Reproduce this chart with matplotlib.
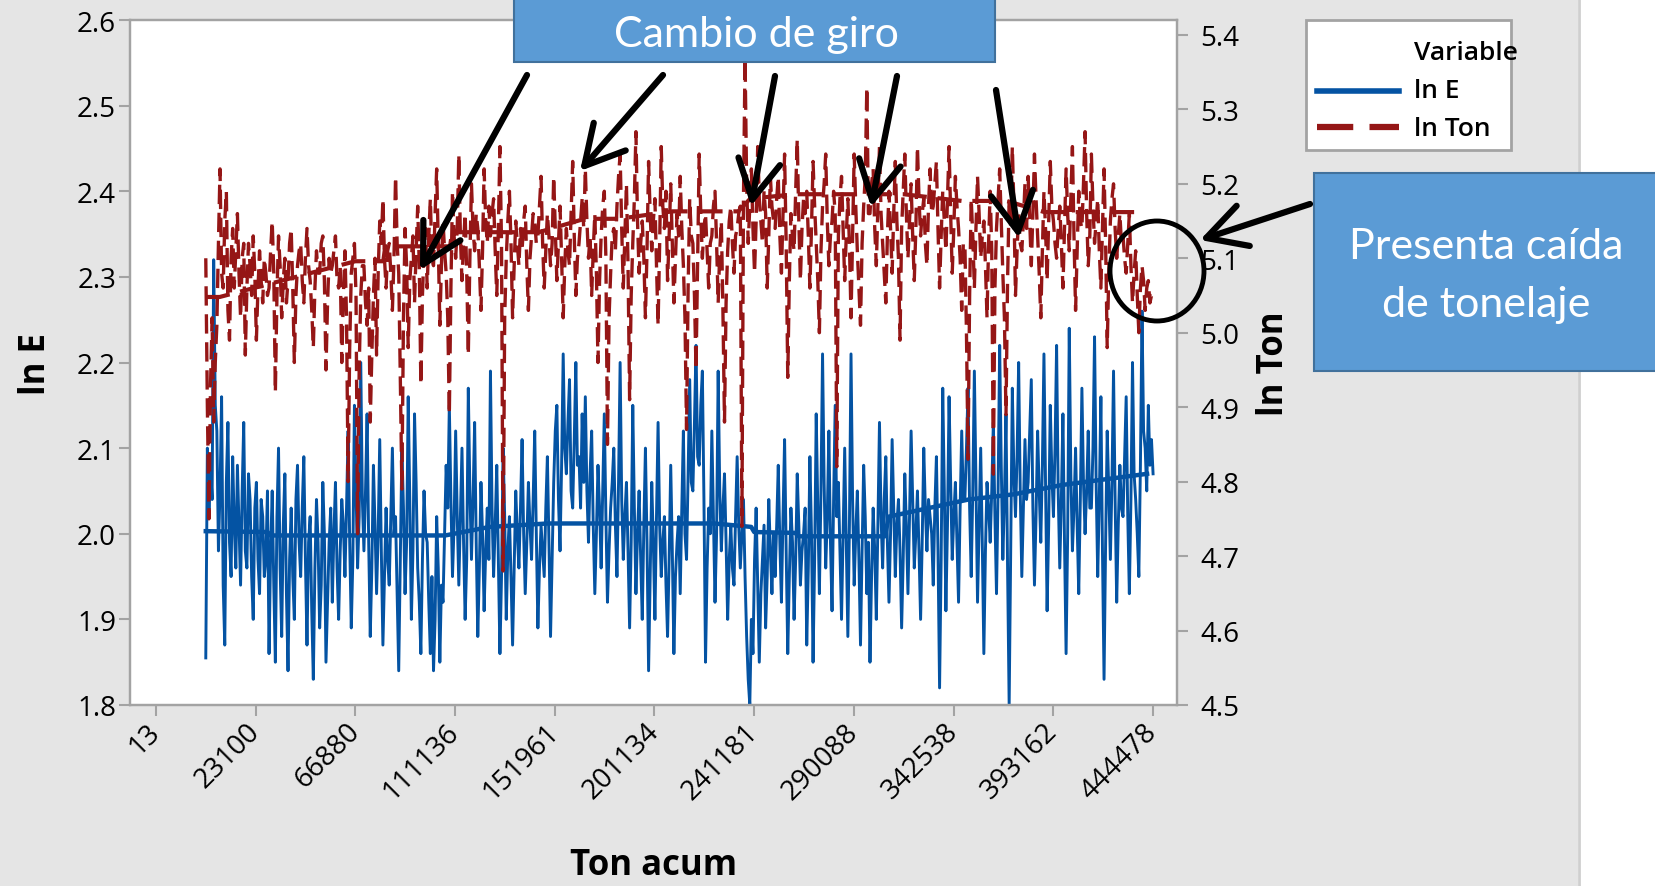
import numpy as np
import matplotlib
matplotlib.use('Agg')
import matplotlib.pyplot as plt
from matplotlib.patches import Rectangle, Ellipse, FancyArrowPatch
from matplotlib.lines import Line2D

plt.rcParams['font.family'] = ['Open Sans', 'DejaVu Sans']

W, H = 1655, 887

# x axis: observation index, labelled with the "Ton acum" stamp
tick_pos = [0, 100, 200, 300, 400, 500, 600, 700, 800, 900, 1000]
tick_labels = ['13', '23100', '66880', '111136', '151961', '201134',
               '241181', '290088', '342538', '393162', '444478']

# ln E (left axis) left to right
ln_e = [
    1.855, 2.10, 2.02, 2.08, 2.04, 2.32, 2.15, 2.12, 1.98, 2.05, 2.16, 1.94, 1.87, 2.06, 2.13, 1.99, 1.95, 2.09, 2.01, 1.96,
    2.08, 2.01, 1.94, 2.05, 2.13, 1.98, 1.96, 2.07, 2.04, 1.95, 1.90, 2.03, 2.06, 1.97, 1.93, 2.04, 2.02, 1.95, 1.97, 2.05,
    1.86, 1.98, 2.05, 1.94, 1.85, 2.02, 2.10, 1.96, 1.88, 2.01, 2.07, 1.93, 1.84, 1.97, 2.03, 1.95, 1.90, 2.04, 2.08, 1.99,
    1.95, 2.03, 2.09, 1.97, 1.87, 1.99, 2.02, 1.91, 1.83, 1.96, 2.04, 1.99, 1.89, 1.94, 2.06, 2.00, 1.85, 1.92, 1.99, 2.03,
    1.92, 2.00, 2.06, 1.96, 1.90, 1.98, 2.04, 2.01, 1.95, 2.03, 2.12, 1.99, 1.89, 1.97, 2.15, 2.05, 1.96, 2.02, 2.20, 2.04,
    1.98, 2.05, 2.14, 1.99, 1.88, 1.96, 2.08, 2.01, 1.93, 2.00, 2.11, 1.98, 1.87, 1.95, 2.03, 1.97, 1.94, 2.02, 2.10, 2.00,
    2.02, 1.93, 1.84, 1.97, 2.10, 2.03, 1.93, 1.99, 2.16, 2.04, 1.90, 1.98, 2.14, 2.06, 1.96, 1.92, 1.86, 1.97, 2.05, 2.00,
    1.99, 1.92, 1.86, 1.95, 1.84, 1.90, 2.02, 1.96, 1.85, 1.94, 1.92, 2.00, 2.08, 2.03, 2.15, 2.04, 1.95, 2.01, 2.12, 2.02,
    1.94, 2.02, 2.10, 1.99, 1.90, 1.97, 2.17, 2.05, 1.97, 2.04, 2.13, 1.99, 1.88, 1.96, 2.06, 2.00, 1.91, 1.98, 2.03, 1.97,
    2.19, 2.03, 1.95, 2.01, 2.08, 1.97, 1.86, 1.95, 2.10, 2.02, 1.90, 1.98, 2.02, 1.95, 1.87, 1.96, 2.05, 2.00, 1.96, 2.03,
    2.11, 2.00, 1.93, 1.99, 2.06, 2.01, 1.97, 2.04, 2.12, 2.00, 1.89, 1.96, 2.01, 1.98, 1.95, 2.03, 2.09, 1.99, 1.88, 1.97,
    2.06, 2.12, 2.15, 2.04, 1.98, 2.08, 2.21, 2.10, 2.07, 2.13, 2.18, 2.05, 2.03, 2.11, 2.20, 2.08, 2.09, 2.03, 2.14, 2.06,
    2.16, 2.05, 1.99, 2.07, 2.12, 2.01, 1.93, 2.00, 2.08, 2.03, 1.96, 2.05, 2.14, 2.02, 1.92, 1.98, 2.03, 2.06, 2.10, 2.01,
    1.95, 2.06, 2.20, 2.04, 1.97, 2.02, 2.06, 1.98, 1.89, 1.99, 2.15, 2.03, 1.93, 2.00, 2.05, 1.97, 1.90, 2.01, 2.10, 1.99,
    1.84, 1.95, 2.06, 1.99, 1.90, 2.02, 2.13, 2.01, 1.95, 1.99, 2.02, 1.94, 1.88, 1.97, 2.08, 1.98, 1.86, 1.95, 1.99, 2.02,
    1.93, 2.03, 2.12, 2.00, 1.97, 2.07, 2.18, 2.06, 2.05, 2.13, 2.22, 2.09, 2.08, 2.15, 2.19, 2.04, 1.85, 1.96, 2.03, 2.00,
    2.12, 2.02, 1.92, 2.00, 2.19, 2.05, 1.98, 2.03, 2.07, 1.99, 1.90, 1.97, 2.01, 1.96, 1.94, 2.02, 2.09, 2.01, 1.96, 2.00,
    2.04, 1.95, 1.88, 1.83, 1.80, 1.90, 1.86, 1.97, 2.03, 1.94, 1.85, 1.93, 1.97, 2.01, 1.89, 1.95, 2.04, 1.98, 1.93, 2.00,
    1.95, 2.01, 2.08, 1.99, 1.92, 2.02, 2.11, 1.98, 1.86, 1.95, 2.03, 1.99, 1.90, 1.97, 2.07, 2.01, 1.94, 1.98, 2.00, 2.03,
    1.87, 1.96, 2.09, 2.00, 1.85, 1.97, 2.14, 2.03, 1.93, 2.05, 2.21, 2.06, 1.96, 2.02, 2.12, 1.99, 1.91, 2.04, 2.15, 2.02,
    2.06, 1.98, 1.90, 2.00, 2.10, 1.99, 1.88, 2.01, 2.21, 2.04, 1.94, 2.00, 2.05, 1.97, 1.87, 1.98, 2.08, 2.02, 1.93, 1.99,
    1.85, 1.95, 2.03, 1.98, 1.90, 2.01, 2.13, 2.02, 1.96, 2.04, 2.09, 1.99, 1.92, 2.00, 2.11, 2.03, 1.95, 2.01, 2.04, 1.98,
    1.89, 1.97, 2.07, 2.01, 1.93, 2.02, 2.12, 2.04, 1.96, 2.00, 2.05, 1.98, 1.90, 1.99, 2.10, 2.03, 1.98, 2.04, 2.02, 2.00,
    1.94, 2.03, 2.09, 1.98, 1.82, 1.97, 2.17, 2.05, 1.91, 2.01, 2.16, 2.06, 1.97, 2.02, 2.06, 1.99, 1.92, 2.03, 2.12, 2.04,
    2.04, 2.10, 2.17, 2.03, 1.95, 2.05, 2.19, 2.06, 1.92, 2.01, 2.10, 1.99, 1.86, 1.98, 2.06, 2.03, 1.99, 2.05, 2.13, 2.02,
    1.93, 2.05, 2.22, 2.08, 1.97, 2.04, 2.14, 1.96, 1.80, 1.98, 2.17, 2.07, 2.02, 2.09, 2.20, 2.05, 1.95, 2.03, 2.11, 2.04,
    2.06, 2.12, 2.18, 2.03, 1.94, 2.02, 2.12, 2.05, 1.99, 2.08, 2.21, 2.06, 1.91, 2.01, 2.15, 2.07, 2.02, 2.10, 2.22, 2.05,
    1.96, 2.04, 2.14, 1.99, 1.86, 2.00, 2.24, 2.07, 1.98, 2.03, 2.10, 2.01, 1.93, 2.04, 2.17, 2.06, 2.00, 2.05, 2.12, 2.03,
    2.03, 2.10, 2.23, 2.06, 1.95, 2.04, 2.16, 1.98, 1.83, 1.99, 2.12, 2.05, 1.97, 2.06, 2.19, 2.04, 1.92, 2.01, 2.08, 2.03,
    2.02, 2.09, 2.16, 2.02, 1.93, 2.04, 2.20, 2.07, 2.04, 2.00, 1.95, 2.08, 2.26, 2.12, 2.10, 2.05, 2.15, 2.08, 2.11, 2.07,
]

# ln Ton (right axis)
ln_ton = [
    5.10, 4.90, 4.75, 4.93, 5.02, 4.88, 4.96, 5.01, 5.12, 5.22, 5.08, 5.06, 5.15, 5.19, 5.03, 4.99, 5.10, 5.14, 5.06, 5.11,
    5.16, 5.08, 5.02, 5.10, 5.12, 4.97, 5.06, 5.12, 5.09, 5.05, 5.13, 5.08, 4.99, 5.06, 5.11, 5.07, 5.04, 5.10, 5.08, 5.05,
    5.06, 5.11, 5.15, 5.08, 4.92, 5.05, 5.13, 5.09, 5.02, 5.07, 5.10, 5.04, 5.07, 5.12, 5.14, 5.06, 4.96, 5.05, 5.09, 5.11,
    5.12, 5.07, 5.04, 5.10, 5.14, 5.09, 5.07, 5.03, 4.98, 5.06, 5.11, 5.08, 5.08, 5.12, 5.13, 5.07, 4.95, 5.04, 5.10, 5.08,
    5.09, 5.11, 5.13, 5.07, 5.06, 5.09, 4.96, 5.05, 5.11, 5.02, 4.80, 4.98, 5.08, 5.10, 5.12, 5.05, 4.73, 4.95, 5.05, 5.09,
    5.09, 5.04, 5.01, 5.06, 4.88, 4.97, 5.05, 5.10, 4.97, 5.08, 5.15, 5.12, 5.18, 5.10, 5.06, 5.11, 5.12, 5.08, 5.03, 5.10,
    5.21, 5.12, 5.08, 4.94, 4.79, 5.02, 5.14, 5.09, 4.98, 5.07, 5.10, 5.13, 5.04, 5.11, 5.17, 5.09, 4.93, 5.05, 5.11, 5.14,
    5.06, 5.13, 5.18, 5.10, 5.09, 5.16, 5.22, 5.12, 5.01, 5.09, 5.15, 5.11, 5.08, 5.02, 4.89, 5.06, 5.19, 5.13, 5.10, 5.14,
    5.24, 5.13, 5.07, 5.12, 5.16, 5.08, 4.97, 5.10, 5.20, 5.14, 5.11, 5.16, 5.14, 5.09, 5.03, 5.11, 5.22, 5.15, 5.12, 5.17,
    5.13, 5.16, 5.18, 5.11, 5.05, 5.14, 5.25, 5.12, 4.68, 5.02, 5.10, 5.15, 5.19, 5.12, 5.02, 5.09, 5.15, 5.12, 5.09, 5.14,
    5.11, 5.15, 5.17, 5.09, 5.03, 5.10, 5.13, 5.16, 5.15, 5.12, 5.13, 5.17, 5.21, 5.12, 5.06, 5.11, 5.16, 5.13, 5.09, 5.12,
    5.21, 5.14, 5.07, 5.12, 5.17, 5.10, 5.02, 5.09, 5.14, 5.11, 5.09, 5.16, 5.23, 5.13, 5.05, 5.10, 5.12, 5.15, 5.18, 5.14,
    5.22, 5.15, 5.10, 5.13, 5.05, 5.11, 5.16, 5.08, 4.96, 5.07, 5.13, 5.17, 5.19, 5.10, 4.85, 5.02, 5.08, 5.13, 5.14, 5.11,
    5.17, 5.21, 5.24, 5.14, 5.06, 5.13, 5.20, 5.09, 4.91, 5.05, 5.12, 5.18, 5.27, 5.15, 5.08, 5.12, 5.15, 5.10, 5.02, 5.11,
    5.23, 5.16, 5.11, 5.15, 5.18, 5.09, 5.01, 5.12, 5.25, 5.17, 5.14, 5.19, 5.07, 5.13, 5.20, 5.12, 5.04, 5.10, 5.16, 5.13,
    5.21, 5.14, 5.09, 5.02, 4.87, 5.06, 5.18, 5.13, 5.12, 5.05, 4.95, 5.10, 5.24, 5.16, 5.10, 5.14, 5.16, 5.11, 5.06, 5.12,
    5.13, 5.17, 5.19, 5.12, 5.04, 5.11, 5.15, 5.03, 4.88, 5.04, 5.11, 5.15, 5.17, 5.12, 5.08, 5.13, 5.14, 5.16, 5.17, 4.74,
    5.18, 5.37, 5.20, 5.12, 5.17, 5.22, 5.14, 5.08, 5.15, 5.25, 5.18, 5.15, 5.12, 5.19, 5.16, 5.06, 5.13, 5.21, 5.17, 5.15,
    5.14, 5.18, 5.21, 5.13, 5.08, 5.16, 5.24, 5.12, 4.94, 5.07, 5.16, 5.13, 5.11, 5.19, 5.26, 5.15, 5.07, 5.14, 5.18, 5.16,
    5.19, 5.13, 5.06, 5.14, 5.23, 5.17, 5.12, 5.07, 5.00, 5.11, 5.17, 5.20, 5.24, 5.15, 5.09, 5.13, 5.15, 5.19, 5.16, 4.82,
    5.13, 5.18, 5.21, 5.14, 5.07, 5.13, 5.18, 5.12, 5.02, 5.13, 5.24, 5.17, 5.11, 5.06, 5.01, 5.12, 5.17, 5.21, 5.33, 5.16,
    5.16, 5.20, 5.22, 5.14, 5.09, 5.17, 5.25, 5.16, 5.12, 5.08, 5.04, 5.13, 5.19, 5.14, 5.08, 5.16, 5.23, 5.15, 5.10, 4.99,
    5.14, 5.19, 5.24, 5.16, 5.10, 5.15, 5.20, 5.13, 5.07, 5.14, 5.25, 5.18, 5.13, 5.16, 5.18, 5.12, 5.09, 5.17, 5.22, 5.16,
    5.17, 5.20, 5.23, 5.14, 5.06, 5.13, 5.19, 5.15, 5.11, 5.18, 5.25, 5.16, 5.08, 5.14, 5.21, 5.17, 5.14, 5.10, 5.03, 5.12,
    5.12, 5.00, 4.83, 5.05, 5.18, 5.13, 5.06, 5.14, 5.21, 5.16, 5.10, 5.13, 5.15, 5.09, 5.02, 5.12, 5.19, 5.11, 4.81, 5.06,
    5.14, 5.18, 5.22, 5.15, 5.08, 5.02, 4.89, 5.07, 5.18, 5.14, 5.25, 5.17, 5.05, 5.11, 5.16, 5.12, 5.11, 5.15, 5.20, 5.14,
    5.21, 5.15, 5.09, 5.16, 5.24, 5.18, 5.13, 5.08, 5.02, 5.11, 5.19, 5.14, 5.07, 5.15, 5.23, 5.17, 5.15, 5.12, 5.10, 5.14,
    5.17, 5.12, 5.06, 5.14, 5.22, 5.16, 5.11, 5.18, 5.25, 5.13, 5.03, 5.11, 5.19, 5.15, 5.14, 5.20, 5.27, 5.16, 5.09, 5.13,
    5.24, 5.17, 5.12, 5.15, 5.18, 5.11, 5.06, 5.14, 5.22, 5.12, 4.98, 5.08, 5.15, 5.18, 5.20, 5.14, 5.10, 5.13, 5.16, 5.12,
    5.13, 5.10, 5.08, 5.12, 5.16, 5.09, 5.04, 5.08, 5.11, 5.05, 5.00, 5.06, 5.09, 5.07, 5.03, 5.06, 5.07, 5.04, 5.05, 5.05,
]

obs = np.linspace(50, 1000, len(ln_e))

# slow level lines running through both series (index, value)
ln_e_level_x = [50, 112, 115, 290, 335, 393, 560, 597, 600, 641, 645, 731, 735, 815, 860, 909, 994]
ln_e_level_y = [2.003, 2.002, 1.998, 1.998, 2.008, 2.012, 2.012, 2.008, 2.002, 2.001,
                1.997, 1.997, 2.020, 2.040, 2.046, 2.057, 2.070]
ln_ton_level_x = [50, 64, 200, 228, 230, 295, 297, 384, 430, 464, 518, 584, 596, 641, 750, 808, 853, 891, 981]
ln_ton_level_y = [5.048, 5.048, 5.096, 5.096, 5.116, 5.116, 5.135, 5.135, 5.153, 5.153,
                  5.163, 5.163, 5.180, 5.186, 5.186, 5.177, 5.177, 5.162, 5.162]

blue = '#0453a3'
red = '#951616'
grid_gray = '#a3a3a3'
dash = (0, (5.8, 2.6))

fig = plt.figure(figsize=(W / 100, H / 100), dpi=100, facecolor='white')
fig.add_artist(Rectangle((0, 0), 1578 / W, 1, transform=fig.transFigure,
                         facecolor='#e5e5e5', edgecolor='none', zorder=-10))
fig.add_artist(Line2D([1579 / W] * 2, [0, 1], transform=fig.transFigure,
                      color='#cfcfcf', lw=2, zorder=-9))

ax = fig.add_axes([130 / W, 1 - 706 / H, (1177 - 130) / W, (706 - 21) / H])
ax.set_facecolor('white')
ax2 = ax.twinx()

ax.plot(obs, ln_e, color=blue, lw=2.1)
ax.plot(ln_e_level_x, ln_e_level_y, color=blue, lw=3.2)
ax2.plot(obs, ln_ton, color=red, lw=2.4, linestyle=dash)
ax2.plot(ln_ton_level_x, ln_ton_level_y, color=red, lw=3, linestyle=dash)

ax.set_xlim(-26, 1024)
ax.set_ylim(1.8, 2.6)
ax2.set_ylim(4.5, 5.42)
ax.set_yticks(np.arange(1.8, 2.61, 0.1))
ax.set_yticklabels(['%.1f' % v for v in np.arange(1.8, 2.61, 0.1)])
ax2.set_yticks(np.arange(4.5, 5.41, 0.1))
ax2.set_yticklabels(['%.1f' % v for v in np.arange(4.5, 5.41, 0.1)])
ax.set_xticks(tick_pos)
ax.set_xticklabels(tick_labels, rotation=45, ha='right', va='center',
                   rotation_mode='anchor')

for a in (ax, ax2):
    for s in a.spines.values():
        s.set_color(grid_gray)
        s.set_linewidth(1.6)
ax.tick_params(axis='y', length=8, width=1.5, color=grid_gray, labelsize=20, pad=2)
ax.tick_params(axis='x', length=8, width=1.5, color=grid_gray, labelsize=20, pad=8)
ax2.tick_params(axis='y', length=8, width=1.5, color=grid_gray, labelsize=20, pad=9)

fig.text(654 / W, 1 - 866 / H, 'Ton acum', ha='center', va='center',
         fontsize=25, fontweight='bold')
fig.text(36 / W, 1 - 364 / H, 'ln E', ha='center', va='center', rotation=90,
         fontsize=25, fontweight='bold')
fig.text(1274 / W, 1 - 364 / H, 'ln Ton', ha='center', va='center', rotation=90,
         fontsize=25, fontweight='bold')

# legend, drawn by hand to keep Minitab's layout
fig.add_artist(Rectangle((1306 / W, 1 - 151 / H), 205 / W, 130 / H,
                         transform=fig.transFigure, facecolor='white',
                         edgecolor=grid_gray, lw=2))
fig.text(1414 / W, 1 - 54 / H, 'Variable', ha='left', va='center',
         fontsize=19, fontweight='semibold')
fig.text(1414 / W, 1 - 92 / H, 'ln E', ha='left', va='center',
         fontsize=19, fontweight='semibold')
fig.text(1414 / W, 1 - 129 / H, 'ln Ton', ha='left', va='center',
         fontsize=19, fontweight='semibold')
fig.add_artist(Line2D([1317 / W, 1399 / W], [1 - 92 / H] * 2,
                      transform=fig.transFigure, color=blue, lw=4))
fig.add_artist(Line2D([1317 / W, 1399 / W], [1 - 128 / H] * 2,
                      transform=fig.transFigure, color=red, lw=4.5,
                      linestyle=dash))

# call-out boxes
box_face = '#5b9bd5'
box_edge = '#41719c'
fig.add_artist(Rectangle((514 / W, 1 - 63 / H), 481 / W, 66 / H,
                         transform=fig.transFigure, facecolor=box_face,
                         edgecolor=box_edge, lw=1.5))
fig.text(756 / W, 1 - 35 / H, 'Cambio de giro', ha='center', va='center',
         color='white', fontsize=31, family=['Lato', 'DejaVu Sans'])
fig.add_artist(Rectangle((1314 / W, 1 - 372 / H), 345 / W, 198 / H,
                         transform=fig.transFigure, facecolor=box_face,
                         edgecolor=box_edge, lw=1.5))
fig.text(1486 / W, 1 - 247 / H, 'Presenta caída', ha='center', va='center',
         color='white', fontsize=31, family=['Lato', 'DejaVu Sans'])
fig.text(1486 / W, 1 - 305 / H, 'de tonelaje', ha='center', va='center',
         color='white', fontsize=31, family=['Lato', 'DejaVu Sans'])

fig.add_artist(Ellipse((1157 / W, 1 - 272 / H), 94 / W, 100 / H,
                       transform=fig.transFigure, fill=False,
                       edgecolor='black', lw=3.5))

arrows = [((527, 76), (420, 271)), ((663, 76), (580, 172)),
          ((775, 77), (751, 207)), ((897, 77), (871, 208)),
          ((996, 91), (1019, 239)), ((1310, 205), (1200, 241))]
for (x1, y1), (x2, y2) in arrows:
    fig.add_artist(FancyArrowPatch((x1 / W, 1 - y1 / H), (x2 / W, 1 - y2 / H),
                                   transform=fig.transFigure,
                                   arrowstyle='->,head_length=0.7,head_width=0.38',
                                   mutation_scale=40, lw=4.5, color='black',
                                   shrinkA=0, shrinkB=0))

fig.savefig('out.png', dpi=100, facecolor=fig.get_facecolor())
